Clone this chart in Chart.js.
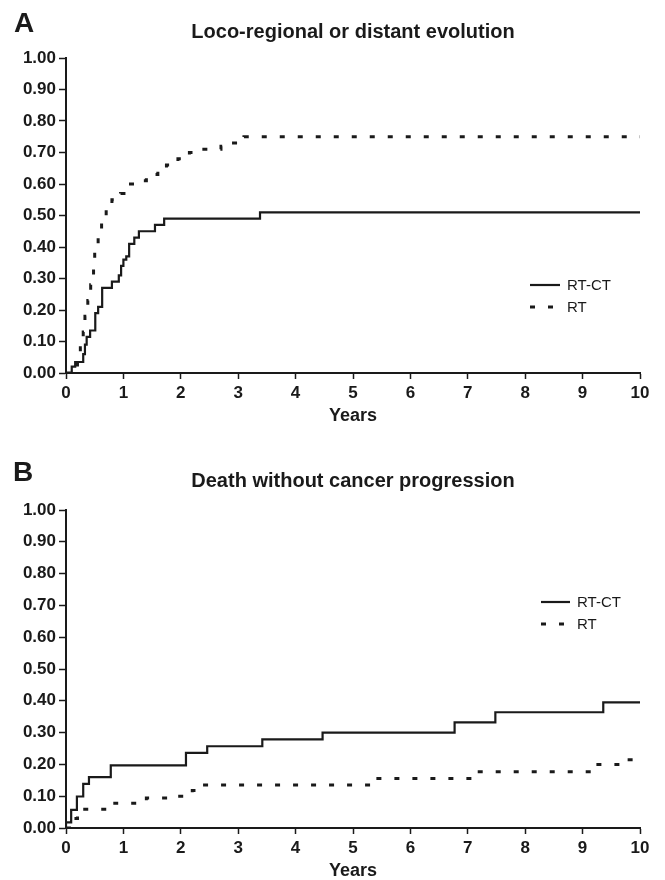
<!DOCTYPE html>
<html>
<head>
<meta charset="utf-8">
<script src="https://cdn.jsdelivr.net/npm/chart.js@4"></script>
<style>
  body { margin: 0; background: #fff; }
  .panel { position: absolute; left: 0; width: 665px; }
  .tag { position: absolute; font: bold 28px Arial, "Liberation Sans", sans-serif; line-height: 28px; color: #1a1a1a; }
</style>
</head>
<body>
<div class="panel" style="top:0;height:440px">
  <canvas id="chartA" width="665" height="440"></canvas>
  <div class="tag" style="left:14px;top:9px">A</div>
</div>
<div class="panel" style="top:436px;height:448px">
  <canvas id="chartB" width="665" height="448"></canvas>
  <div class="tag" style="left:13px;top:22px">B</div>
</div>
<script>
// Panel A: loco-regional or distant evolution (cumulative incidence)
const aRtctYears  = [0, 0.1, 0.16, 0.3, 0.33, 0.36, 0.42, 0.51, 0.56, 0.63, 0.8, 0.92, 0.96, 1.0, 1.05, 1.1, 1.19, 1.27, 1.55, 1.71, 3.38, 10];
const aRtctValues = [0, 0.02, 0.035, 0.06, 0.09, 0.115, 0.135, 0.19, 0.21, 0.27, 0.29, 0.31, 0.34, 0.36, 0.37, 0.41, 0.43, 0.45, 0.47, 0.49, 0.51, 0.51];
const aRtYears  = [0, 0.15, 0.2, 0.25, 0.3, 0.33, 0.38, 0.43, 0.48, 0.5, 0.56, 0.62, 0.7, 0.8, 0.95, 1.05, 1.25, 1.4, 1.6, 1.75, 1.95, 2.15, 2.35, 2.7, 2.85, 3.1, 10];
const aRtValues = [0, 0.02, 0.05, 0.08, 0.13, 0.18, 0.23, 0.28, 0.33, 0.4, 0.45, 0.5, 0.53, 0.55, 0.57, 0.6, 0.61, 0.63, 0.65, 0.66, 0.68, 0.7, 0.71, 0.72, 0.73, 0.75, 0.75];

// Panel B: death without cancer progression
const bRtctYears  = [0, 0, 0.09, 0.19, 0.3, 0.4, 0.78, 2.09, 2.46, 3.42, 4.47, 6.77, 7.48, 9.36, 10];
const bRtctValues = [0, 0.018, 0.057, 0.099, 0.139, 0.16, 0.197, 0.236, 0.257, 0.279, 0.3, 0.332, 0.364, 0.395, 0.395];
const bRtYears  = [0, 0.1, 0.2, 0.85, 1.4, 1.95, 2.2, 2.35, 5.4, 7.1, 9.15, 9.75, 9.98, 10];
const bRtValues = [0, 0.03, 0.059, 0.078, 0.094, 0.1, 0.118, 0.135, 0.156, 0.177, 0.2, 0.215, 0.228, 0.228];

const seriesNames = ['RT-CT', 'RT'];
const yTicks = [0, 0.1, 0.2, 0.3, 0.4, 0.5, 0.6, 0.7, 0.8, 0.9, 1.0];
const xTicks = [0, 1, 2, 3, 4, 5, 6, 7, 8, 9, 10];

const FONT = 'Arial, "Liberation Sans", sans-serif';
const INK = '#1a1a1a';

function toPoints(xs, ys) {
  return xs.map((x, i) => ({ x: x, y: ys[i] }));
}

// small legend drawn inside the plot, like the printed figure
const stepLegend = {
  id: 'stepLegend',
  afterDraw(chart, args, opts) {
    const ctx = chart.ctx;
    ctx.save();
    ctx.font = '15px ' + FONT;
    ctx.fillStyle = INK;
    ctx.textBaseline = 'middle';
    chart.data.datasets.forEach((ds, i) => {
      const y = opts.y + i * opts.gap;
      ctx.beginPath();
      ctx.strokeStyle = INK;
      ctx.lineWidth = ds.borderWidth;
      ctx.setLineDash(ds.borderDash || []);
      ctx.moveTo(opts.x, y);
      ctx.lineTo(opts.x + opts.len, y);
      ctx.stroke();
      ctx.fillText(ds.label, opts.x + opts.len + 7, y + 1);
    });
    ctx.restore();
  }
};

function makeChart(id, title, rtct, rt, pad, legend) {
  return new Chart(document.getElementById(id), {
    type: 'line',
    data: {
      datasets: [
        {
          label: seriesNames[0],
          data: rtct,
          borderColor: INK,
          borderWidth: 2.2,
          stepped: true,
          pointRadius: 0,
          fill: false,
        },
        {
          label: seriesNames[1],
          data: rt,
          borderColor: INK,
          borderWidth: 3,
          borderDash: [5, 13],
          stepped: true,
          pointRadius: 0,
          fill: false,
        }
      ]
    },
    options: {
      responsive: false,
      animation: false,
      devicePixelRatio: 1,
      layout: { padding: { left: 0, right: 25, top: 0, bottom: pad.bottom } },
      plugins: {
        legend: { display: false },
        tooltip: { enabled: false },
        title: {
          display: true,
          text: title,
          fullSize: false,
          color: INK,
          font: { family: FONT, size: 20, weight: 'bold', lineHeight: 1.2 },
          padding: { top: pad.titleTop, bottom: pad.titleBottom },
        },
        stepLegend: legend,
      },
      scales: {
        x: {
          type: 'linear',
          min: 0,
          max: 10,
          afterBuildTicks: s => { s.ticks = xTicks.map(v => ({ value: v })); },
          ticks: {
            color: INK,
            padding: 4,
            font: { family: FONT, size: 17, weight: 'bold' },
            callback: v => String(v),
          },
          grid: { drawOnChartArea: false, tickLength: 6, tickColor: INK, tickWidth: 1.5 },
          border: { display: true, color: INK, width: 2 },
          title: {
            display: true,
            text: 'Years',
            color: INK,
            padding: { top: 0, bottom: 0 },
            font: { family: FONT, size: 18, weight: 'bold', lineHeight: 1.0 },
          },
        },
        y: {
          min: 0,
          max: 1,
          afterBuildTicks: s => { s.ticks = yTicks.map(v => ({ value: v })); },
          afterFit: s => { s.width = 66; },
          ticks: {
            color: INK,
            padding: 3,
            font: { family: FONT, size: 17, weight: 'bold' },
            callback: v => v.toFixed(2),
          },
          grid: { drawOnChartArea: false, tickLength: 7, tickColor: INK, tickWidth: 1.5 },
          border: { display: true, color: INK, width: 2 },
        }
      }
    },
    plugins: [stepLegend]
  });
}

makeChart('chartA', 'Loco-regional or distant evolution',
  toPoints(aRtctYears, aRtctValues), toPoints(aRtYears, aRtValues),
  { bottom: 14.6, titleTop: 20.5, titleBottom: 13.5 },
  { x: 530, y: 285, gap: 22, len: 30 });

makeChart('chartB', 'Death without cancer progression',
  toPoints(bRtctYears, bRtctValues), toPoints(bRtYears, bRtValues),
  { bottom: 3.6, titleTop: 33, titleBottom: 17 },
  { x: 541, y: 166, gap: 22, len: 29 });
</script>
</body>
</html>
